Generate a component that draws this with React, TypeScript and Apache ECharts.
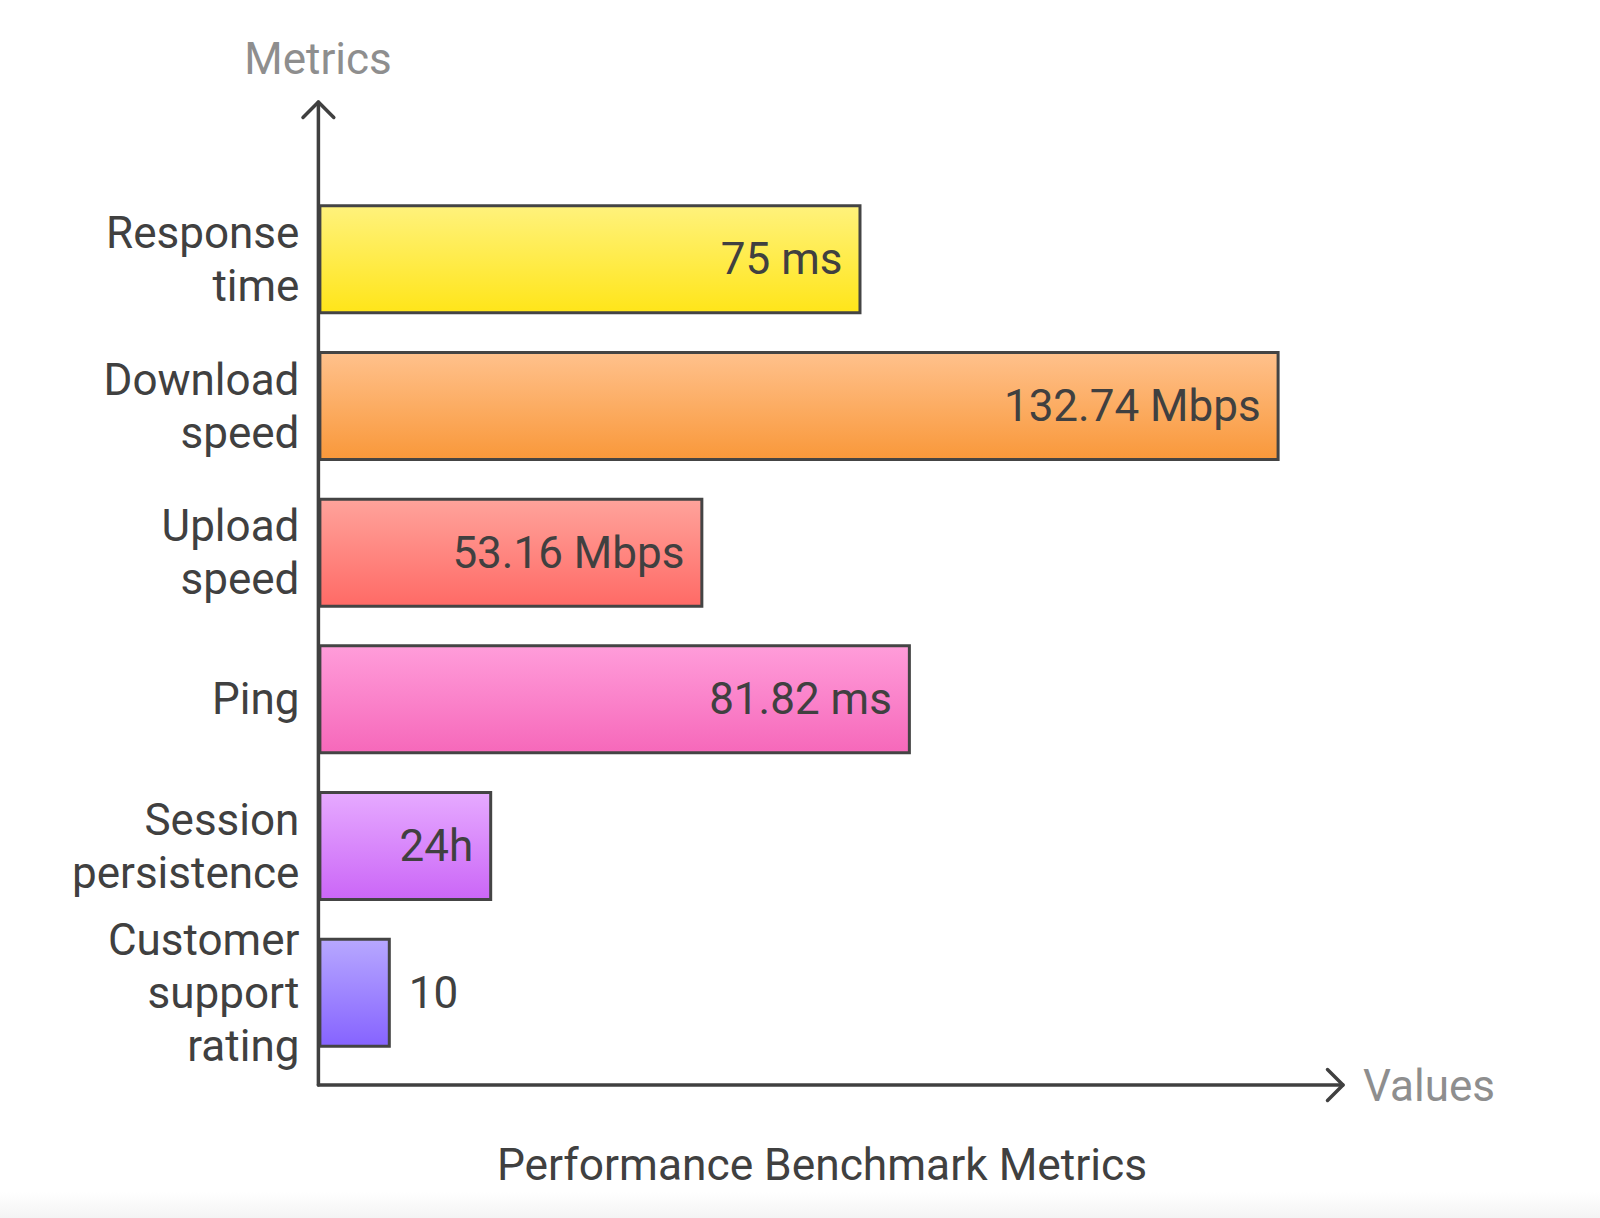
import React, { useEffect, useRef } from "react";
import * as echarts from "echarts";

const categories: string[] = [
  "Response\ntime",
  "Download\nspeed",
  "Upload\nspeed",
  "Ping",
  "Session\npersistence",
  "Customer\nsupport\nrating",
];
const values: number[] = [75, 132.74, 53.16, 81.82, 24, 10];
const valueLabels: string[] = ["75 ms", "132.74 Mbps", "53.16 Mbps", "81.82 ms", "24h", "10"];
const topColors: string[] = ["#FFF27C", "#FFC18C", "#FFA39B", "#FF9DDA", "#E6AAFF", "#B7A8FF"];
const bottomColors: string[] = ["#FFE519", "#F9983A", "#FF6A66", "#F668BA", "#CB66F7", "#8663FF"];
const outsideLabel: boolean[] = [false, false, false, false, false, true];

const FONT = "Roboto, 'Noto Sans', sans-serif";
const DARK = "#404040";
const GREY = "#8e8e8e";

export default function App() {
  const ref = useRef<HTMLDivElement>(null);

  useEffect(() => {
    if (!ref.current) return;
    const chart = echarts.init(ref.current, undefined, { renderer: "svg" });

    const ox = 318.4;
    const oy = 1085;

    const data = values.map((v, i) => ({
      value: v,
      itemStyle: {
        color: new echarts.graphic.LinearGradient(0, 0, 0, 1, [
          { offset: 0, color: topColors[i] },
          { offset: 1, color: bottomColors[i] },
        ]),
      },
      label: outsideLabel[i]
        ? { position: "right", distance: 18 }
        : { position: "insideRight", distance: 19 },
    }));

    chart.setOption({
      animation: false,
      backgroundColor: "#ffffff",
      textStyle: { fontFamily: FONT },
      grid: { left: 318.4, top: 186, right: 270, height: 880, containLabel: false },
      xAxis: {
        type: "value",
        min: 0,
        max: 139.7,
        show: true,
        axisLine: { show: false },
        axisTick: { show: false },
        axisLabel: { show: false },
        splitLine: { show: false },
      },
      yAxis: {
        type: "category",
        data: categories,
        inverse: true,
        axisLine: { show: false },
        axisTick: { show: false },
        splitLine: { show: false },
        axisLabel: {
          margin: 19,
          fontSize: 44,
          lineHeight: 53,
          color: DARK,
          fontFamily: FONT,
          align: "right",
        },
      },
      series: [
        {
          type: "bar",
          data,
          barWidth: 110,
          itemStyle: { borderColor: "#444444", borderWidth: 3 },
          label: {
            show: true,
            fontSize: 44,
            color: DARK,
            fontFamily: FONT,
            formatter: (p: any) => valueLabels[p.dataIndex],
          },
          z: 3,
        },
      ],
      graphic: [
        {
          type: "rect",
          silent: true,
          z: -10,
          shape: { x: 0, y: 1192, width: 1600, height: 26 },
          style: {
            fill: new echarts.graphic.LinearGradient(0, 0, 0, 1, [
              { offset: 0, color: "#ffffff" },
              { offset: 1, color: "#f4f4f4" },
            ]),
          },
        },
        {
          type: "line",
          z: 10,
          shape: { x1: ox, y1: oy, x2: ox, y2: 102 },
          style: { stroke: DARK, lineWidth: 3.5, lineCap: "round" },
        },
        {
          type: "polyline",
          z: 10,
          shape: { points: [[303, 117.5], [ox, 102], [333.8, 117.5]] },
          style: { stroke: DARK, lineWidth: 3.5, fill: "none", lineCap: "round", lineJoin: "round" },
        },
        {
          type: "line",
          z: 10,
          shape: { x1: ox, y1: oy, x2: 1343, y2: oy },
          style: { stroke: DARK, lineWidth: 3.5, lineCap: "round" },
        },
        {
          type: "polyline",
          z: 10,
          shape: { points: [[1327.5, 1069.5], [1343, oy], [1327.5, 1100.5]] },
          style: { stroke: DARK, lineWidth: 3.5, fill: "none", lineCap: "round", lineJoin: "round" },
        },
        {
          type: "text",
          x: 318,
          y: 59,
          style: {
            text: "Metrics",
            fontSize: 44,
            fontFamily: FONT,
            fill: GREY,
            textAlign: "center",
            textVerticalAlign: "middle",
          },
        },
        {
          type: "text",
          x: 1363,
          y: 1086,
          style: {
            text: "Values",
            fontSize: 44,
            fontFamily: FONT,
            fill: GREY,
            textAlign: "left",
            textVerticalAlign: "middle",
          },
        },
        {
          type: "text",
          x: 822,
          y: 1165,
          style: {
            text: "Performance Benchmark Metrics",
            fontSize: 44.3,
            fontFamily: FONT,
            fill: DARK,
            textAlign: "center",
            textVerticalAlign: "middle",
          },
        },
      ],
    });

    return () => chart.dispose();
  }, []);

  return (
    <div
      ref={ref}
      style={{ position: "absolute", left: 0, top: 0, width: 1600, height: 1218 }}
    />
  );
}
